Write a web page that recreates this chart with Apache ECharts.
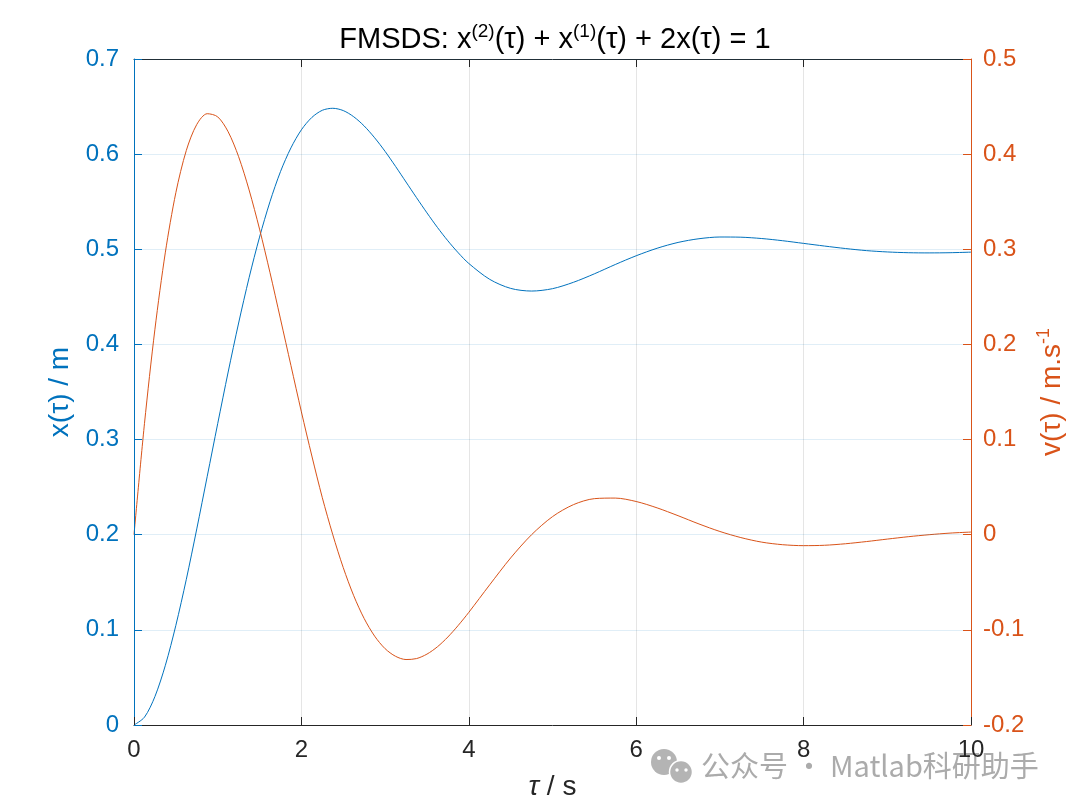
<!DOCTYPE html>
<html>
<head>
<meta charset="utf-8">
<script src="https://cdn.jsdelivr.net/npm/echarts@6/dist/echarts.min.js"></script>
<style>html,body{margin:0;padding:0;background:#fff}#c{width:1080px;height:812px}</style>
</head>
<body>
<div id="c"></div>
<script>
// time samples (tau / s)
var tau = [0, 0.125, 0.25, 0.375, 0.5, 0.625, 0.75, 0.875, 1.0, 1.125, 1.25, 1.375, 1.5, 1.625, 1.75, 1.875, 2.0, 2.125, 2.25, 2.375, 2.5, 2.625, 2.75, 2.875, 3.0, 3.125, 3.25, 3.375, 3.5, 3.625, 3.75, 3.875, 4.0,
           4.25, 4.5, 4.75, 5.0, 5.25, 5.5, 5.75, 6.0, 6.25, 6.5, 6.75, 7.0, 7.25, 7.5, 7.75, 8.0, 8.25, 8.5, 8.75, 9.0, 9.25, 9.5, 9.75, 10];
// displacement x(tau) / m
var xVals = [0, 0.0082, 0.0299, 0.0628, 0.1047, 0.1531, 0.2061, 0.2614, 0.3167, 0.3710, 0.4225, 0.4701, 0.5128, 0.5501, 0.5816, 0.6066, 0.6256, 0.6386, 0.6461, 0.6482, 0.6458, 0.6393, 0.6296, 0.6172, 0.6029, 0.5871, 0.5707, 0.5543, 0.5383, 0.5230, 0.5089, 0.4962, 0.4851,
             0.4684, 0.4589, 0.4561, 0.4586, 0.4653, 0.4742, 0.4840, 0.4932, 0.5011, 0.5072, 0.5111, 0.5129, 0.5127, 0.5113, 0.5090, 0.5062, 0.5034, 0.5008, 0.4986, 0.4972, 0.4964, 0.4962, 0.4964, 0.4970];
// velocity v(tau) / m.s^-1
var vVals = [0, 0.1167, 0.2160, 0.2970, 0.3595, 0.4039, 0.4312, 0.4425, 0.4392, 0.4235, 0.3973, 0.3624, 0.3212, 0.2754, 0.2268, 0.1778, 0.1291, 0.0827, 0.0389, 0, -0.0346, -0.0641, -0.0881, -0.1066, -0.1198, -0.1278, -0.1312, -0.1302, -0.1255, -0.1178, -0.1075, -0.0952, -0.0816,
             -0.0526, -0.0244, 0, 0.0190, 0.0316, 0.0379, 0.0385, 0.0349, 0.0282, 0.0200, 0.0113, 0.0034, -0.0030, -0.0078, -0.0105, -0.0115, -0.0111, -0.0095, -0.0072, -0.0046, -0.0021, 0, 0.0017, 0.0028];
var xTicks = [0, 2, 4, 6, 8, 10];
var leftTicks = [0, 0.1, 0.2, 0.3, 0.4, 0.5, 0.6, 0.7];
var rightTicks = [-0.2, -0.1, 0, 0.1, 0.2, 0.3, 0.4, 0.5];

var BLUE = '#0072BD', ORANGE = '#D95319', DARK = '#262626';
var FONT = '"Liberation Sans", Arial, sans-serif';

function pairs(ys) { return tau.map(function (t, i) { return [t, ys[i]]; }); }
function fmt(v) { var r = Math.round(v * 10) / 10; return r === 0 ? '0' : String(r); }

var chart = echarts.init(document.getElementById('c'), null, { renderer: 'canvas' });
chart.setOption({
  backgroundColor: '#ffffff',
  animation: false,
  title: {
    text: 'FMSDS: x{sup|(2)}(τ) + x{sup|(1)}(τ) + 2x(τ) = 1',
    left: 550, top: 17, textAlign: 'center',
    textStyle: {
      fontFamily: FONT, fontSize: 29, fontWeight: 'normal', color: '#000', lineHeight: 35,
      rich: { sup: { fontFamily: FONT, fontSize: 19, color: '#000', verticalAlign: 'top', lineHeight: 19 } }
    }
  },
  grid: { left: 134, right: 109, top: 59, bottom: 87, containLabel: false },
  xAxis: [{
    type: 'value', min: xTicks[0], max: xTicks[xTicks.length - 1], interval: 2, position: 'bottom', z: 5,
    name: '{it|τ} / s', nameLocation: 'middle', nameGap: 48,
    nameTextStyle: { fontFamily: FONT, fontSize: 28, color: DARK, rich: { it: { fontFamily: FONT, fontSize: 28, fontStyle: 'italic', color: DARK } } },
    axisLine: { show: true, onZero: false, lineStyle: { color: DARK, width: 1 } },
    axisTick: { show: true, inside: true, length: 8, lineStyle: { color: DARK } },
    axisLabel: { fontFamily: FONT, fontSize: 24, color: DARK, margin: 13, formatter: function (v) { return String(v); } },
    splitLine: { show: true, lineStyle: { color: 'rgba(38,38,38,0.12)', width: 1 } }
  }, {
    type: 'value', min: xTicks[0], max: xTicks[xTicks.length - 1], interval: 2, position: 'top',
    axisLine: { show: true, onZero: false, lineStyle: { color: DARK, width: 1 } },
    axisTick: { show: true, inside: true, length: 8, lineStyle: { color: DARK } },
    axisLabel: { show: false }, splitLine: { show: false }
  }],
  yAxis: [{
    type: 'value', min: leftTicks[0], max: leftTicks[leftTicks.length - 1], interval: 0.1, position: 'left', z: 5,
    name: 'x(τ) / m', nameLocation: 'middle', nameGap: 56, nameRotate: 90,
    nameTextStyle: { fontFamily: FONT, fontSize: 28, color: BLUE },
    axisLine: { show: true, onZero: false, lineStyle: { color: BLUE, width: 1 } },
    axisTick: { show: true, inside: true, length: 8, lineStyle: { color: BLUE } },
    axisLabel: { fontFamily: FONT, fontSize: 24, color: BLUE, margin: 15, formatter: fmt },
    splitLine: { show: true, lineStyle: { color: 'rgba(0,114,189,0.12)', width: 1 } }
  }, {
    type: 'value', min: rightTicks[0], max: rightTicks[rightTicks.length - 1], interval: 0.1, position: 'right', z: 5,
    name: 'v(τ) / m.s{sup|-1}', nameLocation: 'middle', nameGap: 64, nameRotate: 90,
    nameTextStyle: { fontFamily: FONT, fontSize: 28, color: ORANGE, lineHeight: 34,
      rich: { sup: { fontFamily: FONT, fontSize: 18, color: ORANGE, verticalAlign: 'top', lineHeight: 18 } } },
    axisLine: { show: true, onZero: false, lineStyle: { color: ORANGE, width: 1 } },
    axisTick: { show: true, inside: true, length: 8, lineStyle: { color: ORANGE } },
    axisLabel: { fontFamily: FONT, fontSize: 24, color: ORANGE, margin: 12, formatter: fmt },
    splitLine: { show: false }
  }],
  graphic: [
    { type: 'circle', z: 0, shape: { cx: 664, cy: 762, r: 13 }, style: { fill: '#b4b4b4' } },
    { type: 'circle', z: 0, shape: { cx: 681, cy: 772, r: 11.5 }, style: { fill: '#b4b4b4', stroke: '#fff', lineWidth: 1.5 } },
    { type: 'circle', z: 0, shape: { cx: 659, cy: 758, r: 2 }, style: { fill: '#fff' } },
    { type: 'circle', z: 0, shape: { cx: 669, cy: 758, r: 2 }, style: { fill: '#fff' } },
    { type: 'circle', z: 0, shape: { cx: 677, cy: 770, r: 1.7 }, style: { fill: '#fff' } },
    { type: 'circle', z: 0, shape: { cx: 686, cy: 770, r: 1.7 }, style: { fill: '#fff' } },
    { type: 'text', z: 0, left: 701, top: 751, style: { text: '公众号 · Matlab科研助手', font: '29px "Noto Sans CJK SC", "Noto Sans", sans-serif', fill: '#ababab' } }
  ],
  series: [{
    type: 'line', name: 'x', xAxisIndex: 0, yAxisIndex: 0, data: pairs(xVals),
    showSymbol: false, smooth: 0.3, lineStyle: { color: BLUE, width: 1 }, itemStyle: { color: BLUE }, z: 3
  }, {
    type: 'line', name: 'v', xAxisIndex: 0, yAxisIndex: 1, data: pairs(vVals),
    showSymbol: false, smooth: 0.3, lineStyle: { color: ORANGE, width: 1 }, itemStyle: { color: ORANGE }, z: 4
  }]
});
</script>
</body>
</html>
